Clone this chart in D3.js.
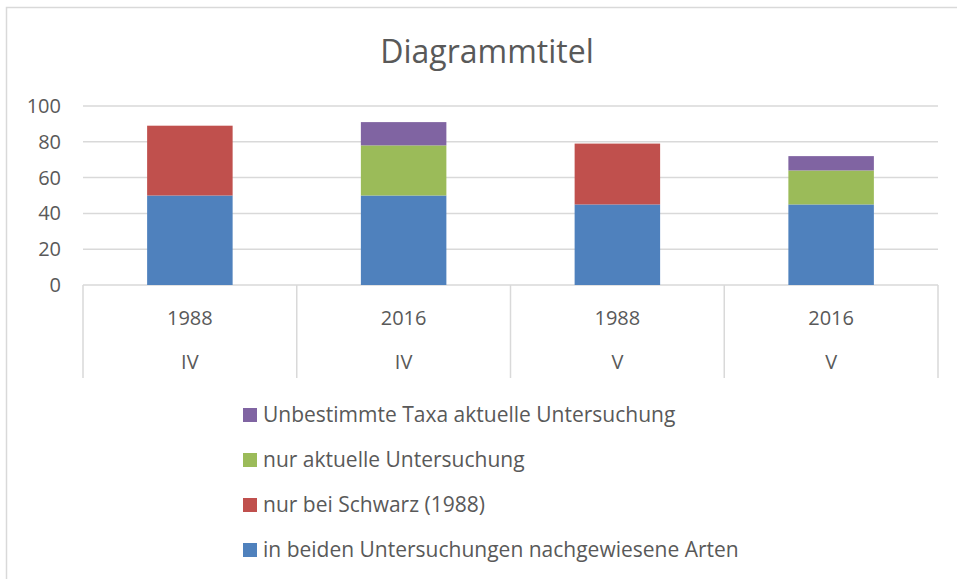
<!DOCTYPE html>
<html>
<head>
<meta charset="utf-8">
<script src="https://cdn.jsdelivr.net/npm/d3@7"></script>
<style>
  body { margin: 0; background: #fff; }
  text { font-family: "Open Sans", "Noto Sans", sans-serif; fill: #595959; }
</style>
</head>
<body>
<script>
const years = ["1988", "2016", "1988", "2016"];
const groups = ["IV", "IV", "V", "V"];
const beide = [50, 50, 45, 45];
const schwarz = [39, 0, 34, 0];
const aktuell = [0, 28, 0, 19];
const unbestimmt = [0, 13, 0, 8];
const seriesNames = [
  "in beiden Untersuchungen nachgewiesene Arten",
  "nur bei Schwarz (1988)",
  "nur aktuelle Untersuchung",
  "Unbestimmte Taxa aktuelle Untersuchung"
];
const colors = ["#4f81bd", "#c0504d", "#9bbb59", "#8064a2"];
const yTicks = [0, 20, 40, 60, 80, 100];

const width = 957, height = 579;
const plotLeft = 83, plotRight = 938, plotTop = 106, plotBottom = 285;

const svg = d3.select("body").append("svg")
  .attr("width", width)
  .attr("height", height);

// chart border (left + top only visible)
svg.append("path")
  .attr("d", `M6.5,${height} V7.5 H${width}`)
  .attr("fill", "none")
  .attr("stroke", "#d9d9d9")
  .attr("stroke-width", 1.5);

svg.append("text")
  .attr("x", 487)
  .attr("y", 63)
  .attr("text-anchor", "middle")
  .style("font-size", "32px")
  .text("Diagrammtitel");

const idx = d3.range(years.length);
const x = d3.scaleBand().domain(idx).range([plotLeft, plotRight]).padding(0);
const y = d3.scaleLinear().domain([0, 100]).range([plotBottom, plotTop]);

// gridlines
svg.append("g").selectAll("line")
  .data(yTicks)
  .enter().append("line")
  .attr("x1", plotLeft).attr("x2", plotRight)
  .attr("y1", d => y(d)).attr("y2", d => y(d))
  .attr("stroke", "#d9d9d9")
  .attr("stroke-width", 1.5);

svg.append("g").selectAll("text")
  .data(yTicks)
  .enter().append("text")
  .attr("x", 61)
  .attr("y", d => y(d))
  .attr("dy", ".35em")
  .attr("text-anchor", "end")
  .style("font-size", "20px")
  .text(d => d);

// stacked bars
const rows = idx.map(i => ({i, s0: beide[i], s1: schwarz[i], s2: aktuell[i], s3: unbestimmt[i]}));
const stack = d3.stack().keys(["s0", "s1", "s2", "s3"])(rows);
const barW = x.bandwidth() * 0.4;

svg.append("g").selectAll("g")
  .data(stack)
  .enter().append("g")
  .attr("fill", (d, k) => colors[k])
  .selectAll("rect")
  .data(d => d.filter(p => p[1] > p[0]))
  .enter().append("rect")
  .attr("x", d => x(d.data.i) + (x.bandwidth() - barW) / 2)
  .attr("width", barW)
  .attr("y", d => y(d[1]))
  .attr("height", d => y(d[0]) - y(d[1]));

// category axis with separators
const catBottom = 378;
svg.append("g").selectAll("line")
  .data(idx.concat([idx.length]))
  .enter().append("line")
  .attr("x1", d => d < idx.length ? x(d) : plotRight)
  .attr("x2", d => d < idx.length ? x(d) : plotRight)
  .attr("y1", plotBottom).attr("y2", catBottom)
  .attr("stroke", "#d9d9d9")
  .attr("stroke-width", 1.5);

svg.append("g").selectAll("text")
  .data(idx)
  .enter().append("text")
  .attr("x", d => x(d) + x.bandwidth() / 2)
  .attr("y", 318)
  .attr("dy", ".35em")
  .attr("text-anchor", "middle")
  .style("font-size", "20px")
  .text(d => years[d]);

svg.append("g").selectAll("text")
  .data(idx)
  .enter().append("text")
  .attr("x", d => x(d) + x.bandwidth() / 2)
  .attr("y", 362)
  .attr("dy", ".35em")
  .attr("text-anchor", "middle")
  .style("font-size", "20px")
  .text(d => groups[d]);

// legend, reversed order
const legendOrder = [3, 2, 1, 0];
const leg = svg.append("g").selectAll("g")
  .data(legendOrder)
  .enter().append("g")
  .attr("transform", (d, j) => `translate(243, ${415 + j * 45})`);

leg.append("rect")
  .attr("x", 0).attr("y", -7)
  .attr("width", 14).attr("height", 14)
  .attr("fill", d => colors[d]);

leg.append("text")
  .attr("x", 20)
  .attr("dy", ".35em")
  .style("font-size", "21px")
  .text(d => seriesNames[d]);
</script>
</body>
</html>
